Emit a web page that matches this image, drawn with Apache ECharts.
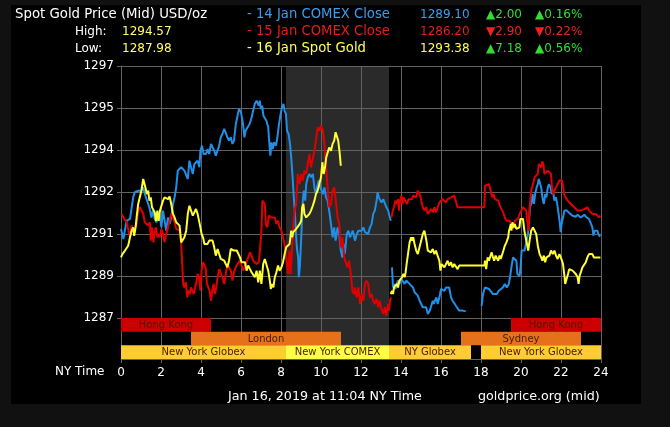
<!DOCTYPE html>
<html>
<head>
<meta charset="utf-8">
<script src="https://cdn.jsdelivr.net/npm/echarts@6/dist/echarts.min.js"></script>
<style>
html,body{margin:0;padding:0;background:#111;}
#wrap{position:relative;width:670px;height:427px;background:#111;}
#panel{position:absolute;left:11px;top:5px;width:630px;height:399px;background:#000;}
#chart{position:absolute;left:0;top:0;width:670px;height:427px;}
</style>
</head>
<body>
<div id="wrap"><div id="panel"></div><div id="chart"></div></div>
<script>
// ---------- data ----------
const hourTicks = [0,2,4,6,8,10,12,14,16,18,20,22,24];
const yTickLabels = ['1287','1289','1291','1292','1294','1295','1297'];
const yMin = 1287, yMax = 1296.9, yStep = 1.65;

const blue14 = [
[0.00,1290.50],[0.12,1290.10],[0.28,1290.82],[0.45,1290.89],[0.61,1291.74],[0.69,1291.94],[0.86,1292.00],[1.02,1292.00],[1.11,1292.13],[1.19,1291.87],[1.36,1291.48],[1.44,1291.28],[1.52,1290.95],[1.60,1291.22],[1.69,1290.89],[1.77,1290.76],[1.85,1290.69],[1.93,1291.09],[2.02,1290.56],[2.10,1291.22],[2.18,1291.28],[2.26,1290.43],[2.35,1290.95],[2.43,1290.69],[2.51,1290.95],[2.60,1291.48],[2.68,1291.74],[2.76,1292.13],[2.84,1292.79],[2.93,1292.85],[3.01,1292.92],[3.09,1292.98],[3.17,1292.79],[3.26,1292.72],[3.34,1292.46],[3.42,1293.18],[3.50,1292.92],[3.59,1292.66],[3.67,1293.05],[3.75,1292.98],[3.83,1293.18],[3.92,1292.92],[3.97,1293.57],[4.05,1293.77],[4.13,1293.44],[4.25,1293.44],[4.33,1293.64],[4.41,1293.44],[4.50,1293.84],[4.58,1293.70],[4.66,1293.57],[4.74,1293.38],[4.83,1293.31],[4.91,1293.77],[4.99,1294.10],[5.07,1294.23],[5.16,1294.43],[5.24,1294.49],[5.32,1294.10],[5.40,1293.97],[5.49,1294.10],[5.57,1293.84],[5.65,1293.97],
[5.74,1294.62],[5.90,1295.21],[6.00,1295.08],[6.10,1294.62],[6.17,1294.10],[6.23,1294.36],[6.33,1294.49],[6.43,1294.62],[6.53,1294.88],[6.61,1295.15],[6.69,1295.41],[6.78,1295.54],[6.83,1295.60],[6.89,1295.34],[6.94,1295.54],[6.99,1295.21],[7.06,1295.34],[7.12,1294.95],[7.19,1295.01],[7.27,1294.75],[7.36,1294.49],[7.42,1293.84],[7.47,1293.38],[7.52,1293.90],[7.59,1293.64],[7.65,1293.90],[7.75,1293.77],[7.82,1294.10],[7.90,1294.62],[7.98,1295.01],[8.05,1295.28],[8.12,1295.41],[8.18,1295.15],[8.25,1295.01],[8.30,1294.36],[8.38,1294.23],[8.45,1293.84],[8.51,1293.31],[8.58,1292.53],[8.64,1291.74],[8.69,1291.22],[8.74,1290.43],[8.78,1289.91],[8.81,1289.65],[8.86,1289.38],[8.89,1288.60],[8.94,1288.99],[8.99,1289.78],[9.04,1290.69],[9.09,1291.61],[9.14,1292.00],[9.21,1291.61],[9.26,1292.26],[9.34,1292.53],[9.42,1292.66],[9.50,1292.53],[9.59,1292.66],[9.67,1292.13],[9.74,1291.87],[9.80,1292.13],[9.88,1292.40],[9.97,1292.13],[10.03,1292.00],[10.10,1291.87],[10.17,1292.13],[10.25,1291.74],[10.33,1291.61],[10.41,1291.22],[10.50,1290.69],[10.58,1290.17],[10.66,1290.56],[10.73,1290.04],[10.83,1290.56],[10.91,1290.30],[10.99,1289.65],[11.07,1289.38],[11.12,1289.91],[11.19,1289.52],[11.29,1290.30],[11.37,1290.43],[11.45,1290.17],[11.52,1290.10],[11.59,1290.43],
[11.70,1290.04],[11.79,1290.30],[11.87,1290.43],[11.95,1290.50],[12.03,1290.43],[12.12,1290.56],[12.20,1290.37],[12.28,1290.43],[12.36,1290.30],[12.45,1290.56],[12.53,1290.69],[12.61,1291.09],[12.69,1291.22],[12.78,1291.61],[12.83,1291.94],[12.89,1291.74],[12.94,1291.81],[13.02,1291.54],[13.11,1291.67],[13.19,1291.61],[13.27,1291.35],[13.36,1291.22],[13.42,1291.02],[13.49,1290.82],[13.52,null],
[13.55,1288.99],[13.60,1288.20],[13.65,1288.34],[13.72,1288.14],[13.79,1288.34],[13.85,1288.47],[13.93,1288.34],[14.02,1288.53],[14.10,1288.47],[14.18,1288.34],[14.26,1288.47],[14.35,1288.40],[14.43,1288.34],[14.51,1288.40],[14.60,1288.20],[14.68,1288.01],[14.76,1287.94],[14.84,1287.88],[14.93,1287.68],[15.01,1287.62],[15.09,1287.42],[15.17,1287.35],[15.26,1287.42],[15.34,1287.16],[15.39,1287.09],[15.44,1287.29],[15.50,1287.35],[15.59,1287.68],[15.64,1287.55],[15.70,1287.68],[15.77,1287.81],[15.83,1287.55],[15.92,1287.81],[16.00,1288.14],[16.08,1288.20],[16.17,1288.07],[16.25,1288.20],[16.31,1288.27],[16.41,1288.20],[16.50,1287.81],[16.58,1287.68],[16.66,1287.75],[16.74,1287.49],[16.83,1287.55],[16.91,1287.29],[16.99,1287.22],[17.07,1287.29],[17.24,1287.26],[17.5,null],
[18.03,1287.48],[18.10,1287.94],[18.20,1288.20],[18.30,1288.27],[18.40,1288.14],[18.50,1288.20],[18.60,1287.94],[18.69,1288.01],[18.79,1287.94],[18.89,1288.07],[18.99,1288.01],[19.09,1288.20],[19.19,1288.34],[19.29,1288.20],[19.39,1288.34],[19.45,1288.60],[19.52,1288.99],[19.60,1289.38],[19.69,1289.45],[19.77,1289.25],[19.82,1288.73],[19.88,1288.73],[19.93,1288.66],[19.98,1288.99],[20.03,1289.65],[20.10,1289.71],[20.18,1289.65],[20.26,1289.71],[20.35,1290.30],[20.40,1290.82],[20.45,1291.35],[20.51,1291.48],[20.58,1291.87],[20.64,1291.48],[20.71,1291.87],[20.78,1292.13],[20.84,1292.26],[20.89,1292.46],[20.94,1292.40],[21.01,1292.13],[21.07,1291.74],[21.14,1291.48],[21.21,1291.87],[21.27,1291.74],[21.34,1292.13],[21.40,1292.26],[21.47,1292.13],[21.54,1291.87],[21.60,1292.00],[21.67,1291.61],[21.74,1291.74],[21.80,1291.54],[21.87,1291.15],[21.93,1290.82],[21.98,1290.37],[22.03,1290.69],[22.10,1290.95],[22.17,1291.22],[22.23,1291.15],[22.30,1291.22],[22.36,1291.19],[22.43,1291.11],[22.50,1291.09],[22.58,1291.02],[22.66,1291.09],[22.74,1290.98],[22.83,1291.06],[22.91,1291.02],[22.99,1290.95],[23.07,1290.95],[23.16,1291.06],[23.24,1290.98],[23.32,1291.02],[23.40,1290.89],[23.49,1290.82],[23.57,1290.56],[23.62,1290.24],[23.69,1290.43],[23.75,1290.37],[23.82,1290.43],[23.90,1290.24],[23.97,1290.20]
];

const red15 = [
[0.03,1291.09],[0.12,1290.95],[0.20,1290.89],[0.28,1290.76],[0.36,1290.69],[0.45,1290.17],[0.53,1290.63],[0.61,1290.43],[0.69,1290.50],[0.78,1290.69],[0.86,1291.22],[0.94,1291.35],[1.02,1291.28],[1.11,1291.09],[1.19,1290.76],[1.27,1290.69],[1.36,1290.63],[1.44,1290.76],[1.49,1290.04],[1.55,1290.56],[1.62,1289.97],[1.69,1290.43],[1.75,1290.56],[1.82,1290.17],[1.88,1290.30],[1.95,1290.17],[2.02,1290.50],[2.10,1290.30],[2.18,1289.97],[2.26,1290.30],[2.35,1290.56],[2.43,1290.63],[2.51,1291.09],[2.60,1290.95],[2.68,1290.76],[2.76,1290.50],[2.84,1290.56],[2.93,1290.43],[3.01,1289.91],[3.06,1289.12],[3.11,1288.34],[3.17,1288.20],[3.24,1288.40],[3.31,1287.81],[3.37,1288.07],[3.44,1287.94],[3.50,1288.20],[3.57,1288.07],[3.64,1287.94],[3.70,1288.20],[3.77,1288.40],[3.83,1288.73],[3.90,1288.60],[3.97,1288.07],[4.03,1288.86],[4.10,1289.19],[4.17,1289.25],[4.23,1288.99],[4.30,1288.34],[4.36,1288.34],[4.43,1288.07],[4.50,1287.68],[4.56,1288.07],[4.63,1288.34],[4.69,1287.94],[4.76,1288.20],[4.83,1288.60],[4.91,1288.92],[4.99,1288.86],[5.07,1288.60],[5.16,1288.34],[5.24,1288.73],[5.32,1289.12],[5.40,1288.99],[5.49,1288.86],[5.57,1288.47],[5.65,1288.80],[5.74,1288.99],[5.82,1289.12],
[5.95,1289.25],[6.12,1288.86],[6.23,1289.12],[6.36,1289.38],[6.45,1289.58],[6.53,1289.45],[6.61,1289.25],[6.69,1289.19],[6.78,1289.12],[6.89,1289.19],[6.96,1289.78],[7.02,1290.43],[7.07,1291.61],[7.12,1291.67],[7.19,1291.48],[7.24,1290.69],[7.31,1290.56],[7.40,1291.02],[7.52,1290.95],[7.60,1290.89],[7.69,1290.95],[7.77,1290.69],[7.85,1290.82],[7.93,1290.56],[8.02,1290.43],[8.10,1290.17],[8.18,1289.91],[8.26,1289.38],[8.35,1288.73],[8.43,1289.65],[8.48,1288.73],[8.55,1289.65],[8.61,1290.56],[8.68,1291.22],[8.76,1291.48],[8.84,1292.66],[8.93,1292.26],[9.01,1292.66],[9.09,1292.40],[9.17,1292.79],[9.26,1292.66],[9.42,1293.44],[9.50,1292.92],[9.67,1293.57],[9.75,1293.97],[9.83,1294.49],[9.92,1294.36],[10.00,1294.56],[10.10,1294.36],[10.17,1293.84],[10.25,1292.92],[10.33,1292.13],[10.41,1291.35],[10.50,1291.48],[10.58,1292.00],[10.66,1292.13],[10.74,1291.61],[10.83,1290.95],[10.91,1290.69],[10.99,1289.78],[11.07,1290.17],[11.16,1289.38],[11.24,1289.38],[11.32,1288.99],[11.40,1289.25],[11.49,1288.73],[11.57,1288.07],[11.65,1287.94],
[11.70,1288.20],[11.79,1287.81],[11.87,1288.20],[11.95,1287.55],[12.03,1287.94],[12.12,1287.68],[12.20,1288.34],[12.28,1288.47],[12.36,1288.34],[12.45,1287.81],[12.53,1287.94],[12.61,1287.68],[12.69,1287.55],[12.78,1287.75],[12.86,1287.42],[12.94,1287.68],[13.02,1287.35],[13.11,1287.16],[13.19,1287.42],[13.27,1287.09],[13.36,1287.55],[13.40,1287.29],[13.45,1287.68],[13.50,1287.81],[13.51,null],
[13.52,1290.95],[13.59,1291.22],[13.65,1291.35],[13.72,1291.61],[13.79,1291.48],[13.85,1291.67],[13.90,1291.22],[13.95,1291.61],[14.02,1291.81],[14.07,1291.48],[14.13,1291.74],[14.21,1291.67],[14.30,1291.48],[14.38,1291.67],[14.46,1291.61],[14.55,1291.67],[14.61,1291.81],[14.68,1291.87],[14.76,1291.74],[14.84,1292.00],[14.89,1292.00],[14.96,1291.81],[15.01,1291.61],[15.09,1291.35],[15.17,1291.22],[15.26,1291.35],[15.34,1291.09],[15.42,1291.02],[15.50,1291.28],[15.59,1291.15],[15.67,1291.35],[15.75,1291.15],[15.83,1291.22],[15.92,1291.54],[16.00,1291.61],[16.08,1291.67],[16.17,1291.61],[16.25,1291.54],[16.33,1291.67],[16.41,1291.61],[16.50,1291.74],[16.58,1291.67],[16.66,1291.81],[16.74,1291.74],[16.83,1291.35],[16.91,1291.35],[17.50,1291.35],[18.17,1291.35],
[18.20,1292.20],[18.30,1292.24],[18.40,1292.26],[18.50,1292.20],[18.56,1291.74],[18.63,1291.87],[18.69,1291.67],[18.78,1291.74],[18.86,1291.61],[18.94,1291.41],[19.02,1291.35],[19.11,1291.15],[19.19,1290.95],[19.27,1290.82],[19.36,1290.76],[19.44,1290.82],[19.52,1290.76],[19.60,1290.50],[19.69,1290.82],[19.77,1290.76],[19.85,1290.89],[19.93,1291.09],[20.02,1291.22],[20.10,1291.35],[20.18,1291.28],[20.26,1291.22],[20.31,1290.82],[20.38,1290.43],[20.43,1291.35],[20.51,1292.00],[20.60,1292.26],[20.68,1292.53],[20.76,1292.53],[20.84,1292.66],[20.89,1293.05],[20.96,1293.12],[21.01,1292.92],[21.06,1293.15],[21.12,1293.05],[21.17,1292.66],[21.26,1292.59],[21.34,1292.79],[21.42,1292.72],[21.50,1292.66],[21.55,1292.13],[21.60,1291.87],[21.67,1292.00],[21.75,1292.13],[21.83,1292.07],[21.92,1292.40],[21.98,1292.46],[22.05,1292.40],[22.12,1292.07],[22.17,1291.81],[22.25,1291.74],[22.33,1291.61],[22.41,1291.67],[22.50,1291.48],[22.58,1291.54],[22.66,1291.35],[22.74,1291.28],[22.83,1291.22],[22.91,1291.28],[22.99,1291.22],[23.07,1291.15],[23.16,1291.28],[23.24,1291.35],[23.32,1291.35],[23.40,1291.22],[23.49,1291.15],[23.57,1291.09],[23.64,1291.02],[23.74,1291.09],[23.82,1291.02],[23.90,1290.95],[23.97,1291.02]
];

const yellow16 = [
[0.00,1289.38],[0.07,1289.51],[0.13,1289.58],[0.20,1289.65],[0.28,1289.71],[0.36,1289.84],[0.45,1290.17],[0.53,1290.43],[0.61,1290.56],[0.66,1290.23],[0.73,1290.56],[0.78,1290.95],[0.86,1291.48],[0.94,1291.74],[1.02,1292.00],[1.11,1292.46],[1.16,1292.50],[1.22,1292.13],[1.29,1291.87],[1.36,1292.00],[1.42,1291.61],[1.49,1291.74],[1.55,1291.35],[1.62,1291.28],[1.69,1291.15],[1.75,1290.82],[1.82,1291.22],[1.88,1290.82],[1.95,1291.22],[2.02,1291.15],[2.10,1291.61],[2.18,1291.74],[2.26,1291.74],[2.35,1291.67],[2.43,1291.77],[2.51,1291.48],[2.60,1291.09],[2.68,1290.95],[2.76,1290.76],[2.84,1290.69],[2.93,1290.63],[3.01,1289.97],[3.09,1289.91],[3.17,1290.17],[3.26,1290.43],[3.34,1291.09],[3.42,1291.41],[3.50,1291.41],[3.59,1291.02],[3.67,1291.09],[3.75,1291.28],[3.83,1291.09],[3.92,1291.02],[3.97,1290.56],[4.03,1290.30],[4.10,1290.17],[4.17,1289.91],[4.25,1289.97],[4.33,1289.91],[4.41,1290.04],[4.50,1290.10],[4.58,1290.04],[4.66,1289.78],[4.74,1289.45],[4.83,1289.71],[4.91,1289.51],[4.99,1289.32],[5.07,1289.25],[5.16,1289.25],[5.24,1289.19],[5.32,1288.99],[5.40,1289.25],[5.49,1289.71],[5.57,1289.78],[5.65,1289.65],
[5.70,1289.71],[5.79,1289.65],[5.87,1289.58],[5.95,1289.38],[6.03,1289.19],[6.12,1289.12],[6.20,1289.19],[6.28,1288.86],[6.36,1289.06],[6.45,1288.92],[6.53,1288.80],[6.61,1288.86],[6.69,1288.60],[6.78,1288.86],[6.86,1288.40],[6.94,1288.86],[7.02,1288.34],[7.11,1289.12],[7.19,1289.32],[7.27,1289.25],[7.36,1288.86],[7.44,1288.47],[7.49,1288.14],[7.55,1288.34],[7.62,1288.20],[7.69,1288.60],[7.77,1288.80],[7.85,1289.06],[7.93,1288.86],[8.02,1288.99],[8.10,1289.19],[8.18,1289.51],[8.26,1289.78],[8.35,1289.78],[8.43,1289.91],[8.51,1290.43],[8.56,1290.17],[8.61,1290.37],[8.68,1290.30],[8.76,1290.50],[8.84,1290.43],[8.93,1290.69],[9.01,1290.82],[9.06,1291.35],[9.12,1291.48],[9.17,1291.09],[9.26,1290.95],[9.34,1291.02],[9.42,1291.09],[9.50,1291.22],[9.59,1291.41],[9.67,1291.61],[9.75,1291.87],[9.83,1292.00],[9.92,1292.26],[10.00,1292.53],[10.07,1293.12],[10.13,1292.66],[10.20,1292.92],[10.26,1293.31],[10.33,1293.31],[10.41,1293.70],[10.50,1293.57],[10.58,1293.84],[10.66,1293.97],[10.73,1294.30],[10.79,1294.33],[10.86,1293.97],[10.93,1293.51],[10.99,1292.98],[11.1,null],
[13.49,1287.94],[13.55,1288.07],[13.60,1287.94],[13.65,1288.20],[13.72,1288.14],[13.79,1288.34],[13.85,1288.20],[13.92,1288.47],[13.98,1288.40],[14.05,1288.60],[14.12,1288.73],[14.18,1288.60],[14.23,1288.79],[14.28,1289.12],[14.35,1289.51],[14.43,1289.97],[14.51,1290.17],[14.56,1290.04],[14.61,1290.17],[14.68,1289.91],[14.76,1289.65],[14.84,1289.51],[14.93,1289.58],[15.01,1290.04],[15.09,1290.30],[15.17,1290.43],[15.22,1290.37],[15.27,1290.04],[15.34,1289.65],[15.42,1289.71],[15.50,1289.58],[15.59,1289.71],[15.67,1289.51],[15.75,1289.65],[15.83,1289.45],[15.92,1289.25],[15.97,1288.86],[16.03,1289.12],[16.10,1289.06],[16.17,1288.99],[16.25,1289.06],[16.33,1289.25],[16.41,1289.06],[16.50,1289.19],[16.58,1288.99],[16.66,1289.12],[16.74,1289.06],[16.83,1288.92],[16.91,1289.06],[17.50,1289.06],[18.17,1289.06],
[18.20,1289.25],[18.26,1288.92],[18.33,1289.38],[18.40,1289.25],[18.46,1289.32],[18.53,1289.58],[18.60,1289.38],[18.66,1289.25],[18.73,1289.45],[18.79,1289.38],[18.86,1289.25],[18.93,1289.45],[18.99,1289.32],[19.06,1289.38],[19.12,1289.65],[19.19,1289.84],[19.27,1289.97],[19.36,1290.17],[19.40,1290.43],[19.45,1290.56],[19.49,1290.69],[19.52,1290.43],[19.57,1290.76],[19.64,1290.56],[19.69,1290.69],[19.77,1290.50],[19.85,1290.56],[19.92,1290.56],[19.97,1290.89],[20.03,1290.82],[20.10,1290.89],[20.17,1290.43],[20.23,1290.17],[20.30,1289.91],[20.36,1289.65],[20.43,1290.04],[20.51,1290.43],[20.60,1290.56],[20.68,1290.56],[20.76,1290.30],[20.84,1289.84],[20.93,1289.51],[21.01,1289.38],[21.07,1289.25],[21.14,1289.45],[21.21,1289.19],[21.27,1289.38],[21.34,1289.32],[21.42,1289.45],[21.50,1289.65],[21.59,1289.51],[21.67,1289.65],[21.75,1289.45],[21.83,1289.32],[21.92,1289.51],[22.00,1289.58],[22.05,1289.25],[22.10,1289.12],[22.17,1288.66],[22.21,1288.34],[22.28,1288.34],[22.35,1288.73],[22.41,1288.92],[22.50,1288.92],[22.58,1288.86],[22.66,1288.79],[22.74,1288.73],[22.83,1288.60],[22.88,1288.34],[22.93,1288.66],[22.99,1288.79],[23.07,1288.99],[23.16,1289.06],[23.24,1289.19],[23.32,1289.38],[23.40,1289.51],[23.49,1289.45],[23.57,1289.51],[23.64,1289.38],[23.72,1289.45],[23.82,1289.38],[23.90,1289.32],[23.97,1289.38]
];

// trading sessions: [startHour, endHour, firstRow, lastRow]
const sessionSpans = [[0,4.5,0,0],[19.5,24,0,0],[3.5,11,1,1],[17,23,1,1],[0,8.25,2,2],[8.25,13.4,2,2],[13.4,17.5,2,2],[18,24,2,2]];
const sessionNames = ['Hong Kong','Hong Kong','London','Sydney','New York Globex','New York COMEX','NY Globex','New York Globex'];
const sessionKinds = ['hk','hk','eu','eu','ny','comex','ny','ny'];
const comexSpan = [[8.25,13.4,0,1]];

const headerTitle = 'Spot Gold Price (Mid) USD/oz';
const highLow = [['High:','1294.57'],['Low:','1287.98']];
const legendNames = ['- 14 Jan COMEX Close','- 15 Jan COMEX Close','- 16 Jan Spot Gold'];
const legendPrices = ['1289.10','1286.20','1293.38'];
const legendChanges = ['▲2.00','▼2.90','▲7.18'];
const legendPercents = ['▲0.16%','▼0.22%','▲0.56%'];
const footerLeft = 'Jan 16, 2019 at 11:04 NY Time';
const footerRight = 'goldprice.org (mid)';

// ---------- styles ----------
const FONT = 'DejaVu Sans';
const C_BLUE = '#1f8fe8', C_RED = '#e00000', C_YEL = '#ffff33';
const C_GRID = '#636363';
const kindColor = {hk:'#cc0000', eu:'#e5721a', ny:'#ffcc33', comex:'#ffff44'};
const seriesColors = [C_BLUE, C_RED, C_YEL];
const legendPriceColors = ['#3b9cf0','#e81c1c','#ffff55'];
const changeColors = ['#33dd33','#ee2222','#33dd33'];

const chart = echarts.init(document.getElementById('chart'), null, {renderer:'canvas'});

const graphics = [];
function txt(x, y, s, color, size){
  graphics.push({type:'text', x:x, y:y, silent:true,
    style:{text:s, fill:color, font:(size||12) + 'px "' + FONT + '"', align:'left', verticalAlign:'middle'}});
}
txt(15, 15, headerTitle, '#ffffff', 13.3);
highLow.forEach((r,i)=>{ txt(75, 32+17*i, r[0], '#ffffff'); txt(122, 32+17*i, r[1], '#ffff66'); });
legendNames.forEach((n,i)=>{
  const y = 15 + 17*i;
  txt(247, y, n, legendPriceColors[i], 13.2);
  txt(420, y, legendPrices[i], legendPriceColors[i]);
  txt(486, y, legendChanges[i], changeColors[i]);
  txt(535, y, legendPercents[i], changeColors[i]);
});
txt(55, 372, 'NY Time', '#ffffff');
txt(228, 397, footerLeft, '#ffffff', 12.7);
txt(478, 397, footerRight, '#ffffff', 12.7);

function shadeMain(params, api){
  const s = api.value(0), e = api.value(1);
  const p0 = api.coord([s, yMax]), p1 = api.coord([e, yMin]);
  return {type:'rect', shape:{x:p0[0], y:p0[1], width:p1[0]-p0[0], height:p1[1]-p0[1]}, style:{fill:'#2a2a2a'}};
}
function bandRect(api){
  const s = api.value(0), e = api.value(1), r0 = api.value(2), r1 = api.value(3);
  const p0 = api.coord([s, r0]), p1 = api.coord([e, r1]);
  const h = api.size([0,1])[1];
  return {x:p0[0], y:Math.min(p0[1],p1[1]) - h/2, width:p1[0]-p0[0], height:Math.abs(p1[1]-p0[1]) + h};
}
function renderShadeBand(params, api){
  return {type:'rect', shape:bandRect(api), style:{fill:'#2a2a2a'}};
}
function renderSession(params, api){
  const r = bandRect(api);
  const i = params.dataIndex;
  return {type:'group', children:[
    {type:'rect', shape:r, style:{fill:kindColor[sessionKinds[i]]}},
    {type:'text', style:{text:sessionNames[i], x:r.x + r.width/2, y:r.y + r.height/2 + 0.5,
      align:'center', verticalAlign:'middle', fill:'#4a1a00', font:'10px "' + FONT + '"'}}
  ]};
}

chart.setOption({
  animation:false,
  backgroundColor:'transparent',
  textStyle:{fontFamily:FONT},
  graphic:graphics,
  grid:[
    {left:121, top:66, width:480, height:252},
    {left:121, top:318, width:480, height:41}
  ],
  xAxis:[
    {type:'value', gridIndex:0, min:0, max:24, interval:2,
     axisLine:{show:true, lineStyle:{color:C_GRID}}, axisTick:{show:false}, axisLabel:{show:false},
     splitLine:{show:true, lineStyle:{color:C_GRID, width:1}}},
    {type:'value', gridIndex:1, min:0, max:24, interval:2,
     axisLine:{show:true, lineStyle:{color:C_GRID}},
     axisTick:{show:true, length:4, lineStyle:{color:C_GRID}},
     axisLabel:{show:true, color:'#ffffff', fontSize:12, fontFamily:FONT, margin:8,
       formatter:(v)=> hourTicks.indexOf(v) >= 0 ? String(v) : ''},
     splitLine:{show:true, lineStyle:{color:C_GRID, width:1}}}
  ],
  yAxis:[
    {type:'value', gridIndex:0, min:yMin, max:yMax, interval:yStep,
     axisLine:{show:true, lineStyle:{color:C_GRID}},
     axisTick:{show:true, length:4, lineStyle:{color:C_GRID}},
     axisLabel:{color:'#ffffff', fontSize:12, fontFamily:FONT, margin:7,
       formatter:(v)=> yTickLabels[Math.round((v - yMin)/yStep)] || ''},
     splitLine:{show:true, lineStyle:{color:C_GRID, width:1}}},
    {type:'category', gridIndex:1, inverse:true, data:['r0','r1','r2'],
     axisLine:{show:true, lineStyle:{color:C_GRID}}, axisTick:{show:false}, axisLabel:{show:false},
     splitLine:{show:false}}
  ],
  series:[
    {type:'custom', xAxisIndex:0, yAxisIndex:0, z:-1, renderItem:shadeMain, data:comexSpan, silent:true},
    {type:'custom', xAxisIndex:1, yAxisIndex:1, z:-1, renderItem:renderShadeBand, data:comexSpan, silent:true},
    {type:'custom', xAxisIndex:1, yAxisIndex:1, z:3, renderItem:renderSession, data:sessionSpans, silent:true},
    {name:'14 Jan', type:'line', xAxisIndex:0, yAxisIndex:0, data:blue14, showSymbol:false, symbol:'none',
     connectNulls:false, lineStyle:{color:seriesColors[0], width:2}, z:4},
    {name:'15 Jan', type:'line', xAxisIndex:0, yAxisIndex:0, data:red15, showSymbol:false, symbol:'none',
     connectNulls:false, lineStyle:{color:seriesColors[1], width:2}, z:5},
    {name:'16 Jan', type:'line', xAxisIndex:0, yAxisIndex:0, data:yellow16, showSymbol:false, symbol:'none',
     connectNulls:false, lineStyle:{color:seriesColors[2], width:2}, z:6}
  ]
});
</script>
</body>
</html>
